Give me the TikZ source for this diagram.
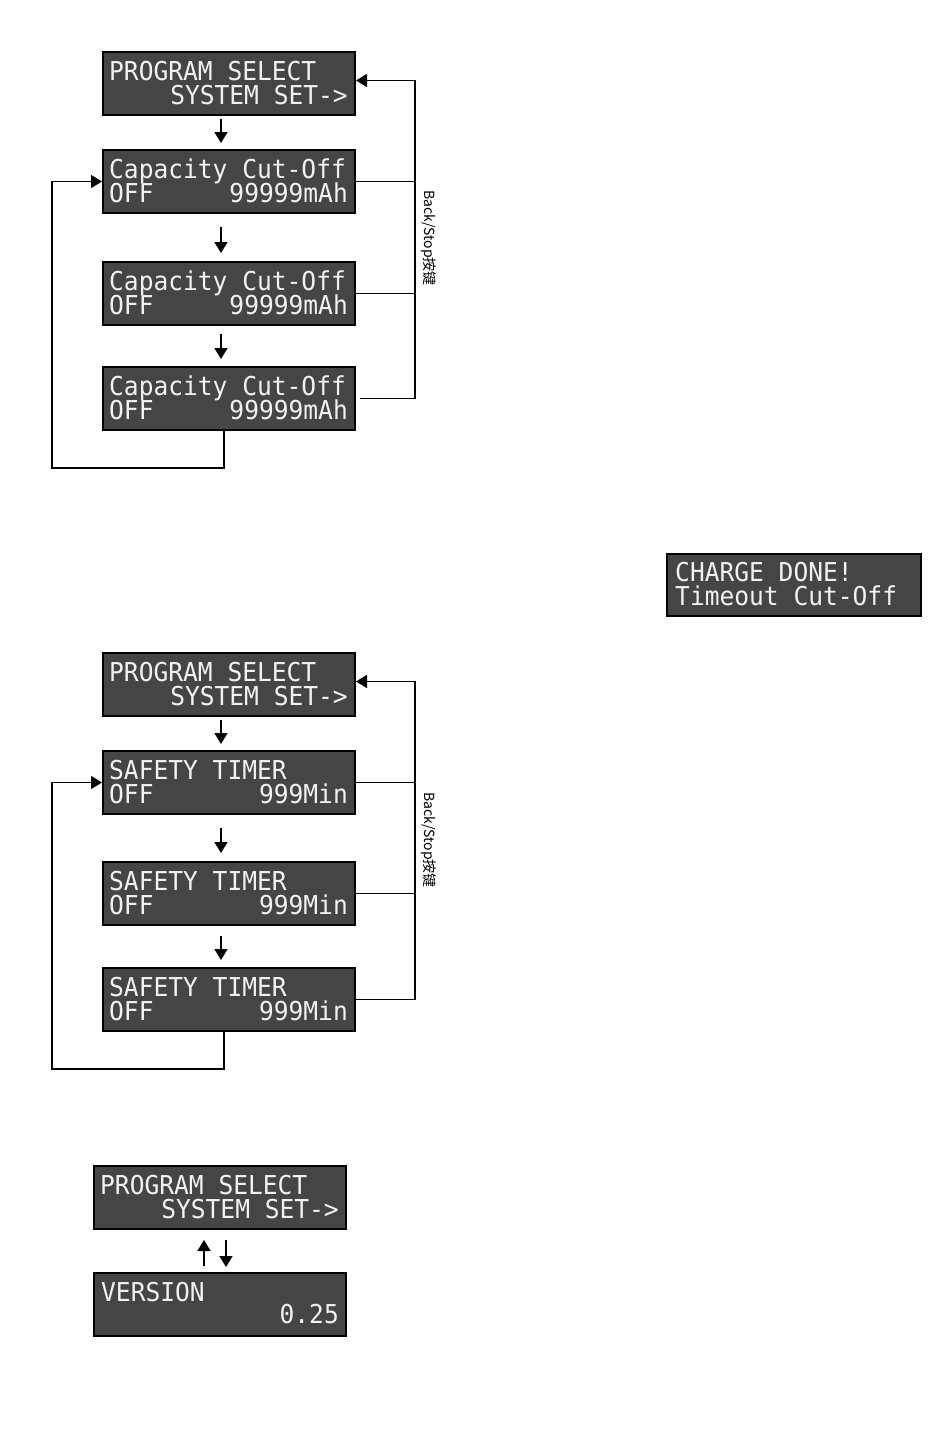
\documentclass[tikz,border=0pt]{standalone}
\usepackage{fontspec}
\setmonofont[FakeStretch=0.945]{DejaVu Sans Mono}
\newfontfamily\cjkfont{Noto Sans CJK SC}
\usetikzlibrary{arrows.meta,calc}
\definecolor{lcdgray}{HTML}{454545}
\definecolor{lcdwhite}{HTML}{F2F2F2}
\tikzset{
  lcdbox/.style={draw=black, line width=2pt, fill=lcdgray, minimum width=252pt,
    minimum height=63pt, anchor=north west, inner sep=0pt},
  lcdtxt/.style={text=lcdwhite, font=\ttfamily\fontsize{26pt}{26pt}\selectfont, inner sep=0pt},
  conn/.style={line width=1.5pt, draw=black},
  arr/.style={conn, -{Triangle[width=13pt,length=11pt]}},
  keylbl/.style={font=\cjkfont\fontsize{14pt}{14pt}\selectfont, rotate=-90, inner sep=0pt},
}
% name, position, line 1, line 2 left, line 2 right
\newcommand\lcdpanel[5]{%
  \node[lcdbox] (#1) at (#2) {};
  \node[lcdtxt, anchor=base west] (#1-a) at ($(#1.north west)+(7,29)$) {#3};
  \node[lcdtxt, anchor=base west] (#1-b) at ($(#1.north west)+(7,53)$) {#4};
  \node[lcdtxt, anchor=base east] (#1-c) at ($(#1.north east)+(-8,53)$) {#5};
}
\begin{document}
\begin{tikzpicture}[x=1pt,y=-1pt]
\useasboundingbox[fill=white] (0,0) rectangle (950,1456);

% ---------- Section 1 ----------
\lcdpanel{s1a}{102,51}{PROGRAM SELECT}{}{SYSTEM SET->}
\lcdpanel{s1b}{102,149}{Capacity Cut-Off}{OFF}{99999mAh}
\lcdpanel{s1c}{102,261}{Capacity Cut-Off}{OFF}{99999mAh}
\lcdpanel{s1d}{102,366}{Capacity Cut-Off}{OFF}{99999mAh}

\draw[arr] ([xshift=-8pt,yshift=-3pt]s1a.south) -- ([xshift=-8pt,yshift=6pt]s1b.north);
\draw[arr] ([xshift=-8pt,yshift=-13pt]s1b.south) -- ([xshift=-8pt,yshift=8pt]s1c.north);
\draw[arr] ([xshift=-8pt,yshift=-8pt]s1c.south) -- ([xshift=-8pt,yshift=7pt]s1d.north);

\draw[arr] ([xshift=4pt]s1d.east) -| ($([yshift=3pt]s1a.east)+(59,0)$) -- ([yshift=3pt]s1a.east);
\draw[conn] (s1b.east) -- ++(59,0);
\draw[conn] (s1c.east) -- ++(59,0);
\draw[arr] ([xshift=-5pt]s1d.south) -- ++(0,37) -| ($(s1b.west)+(-50,0)$) -- (s1b.west);
\node[keylbl] (s1k) at (429,238) {Back/Stop按键};

% ---------- Charge done ----------
\node[lcdbox, minimum width=254pt, minimum height=62pt] (cd) at (666,553) {};
\node[lcdtxt, anchor=base west] (cd-a) at ($(cd.north west)+(9,28)$) {CHARGE DONE!};
\node[lcdtxt, anchor=base west] (cd-b) at ($(cd.north west)+(9,52)$) {Timeout Cut-Off};

% ---------- Section 2 ----------
\lcdpanel{s2a}{102,652}{PROGRAM SELECT}{}{SYSTEM SET->}
\lcdpanel{s2b}{102,750}{SAFETY TIMER}{OFF}{999Min}
\lcdpanel{s2c}{102,861}{SAFETY TIMER}{OFF}{999Min}
\lcdpanel{s2d}{102,967}{SAFETY TIMER}{OFF}{999Min}

\draw[arr] ([xshift=-8pt,yshift=-3pt]s2a.south) -- ([xshift=-8pt,yshift=6pt]s2b.north);
\draw[arr] ([xshift=-8pt,yshift=-13pt]s2b.south) -- ([xshift=-8pt,yshift=8pt]s2c.north);
\draw[arr] ([xshift=-8pt,yshift=-10pt]s2c.south) -- ([xshift=-8pt,yshift=7pt]s2d.north);

\draw[arr] (s2d.east) -| ($([yshift=3pt]s2a.east)+(59,0)$) -- ([yshift=3pt]s2a.east);
\draw[conn] (s2b.east) -- ++(59,0);
\draw[conn] (s2c.east) -- ++(59,0);
\draw[arr] ([xshift=-5pt]s2d.south) -- ++(0,37) -| ($(s2b.west)+(-50,0)$) -- (s2b.west);
\node[keylbl] (s2k) at (429,840) {Back/Stop按键};

% ---------- Section 3 ----------
\lcdpanel{s3a}{93,1165}{PROGRAM SELECT}{}{SYSTEM SET->}
\node[lcdbox] (s3b) at (93,1272) {};
\node[lcdtxt, anchor=base west] (s3b-a) at ($(s3b.north west)+(8,29)$) {VERSION};
\node[lcdtxt, anchor=base east] (s3b-c) at ($(s3b.north east)+(-8,51)$) {0.25};

\draw[arr] ($(s3b.north west)+(111,-6)$) -- ($(s3a.south west)+(111,10)$);
\draw[arr] ($(s3a.south west)+(133,10)$) -- ($(s3b.north west)+(133,-5)$);
\end{tikzpicture}
\end{document}
